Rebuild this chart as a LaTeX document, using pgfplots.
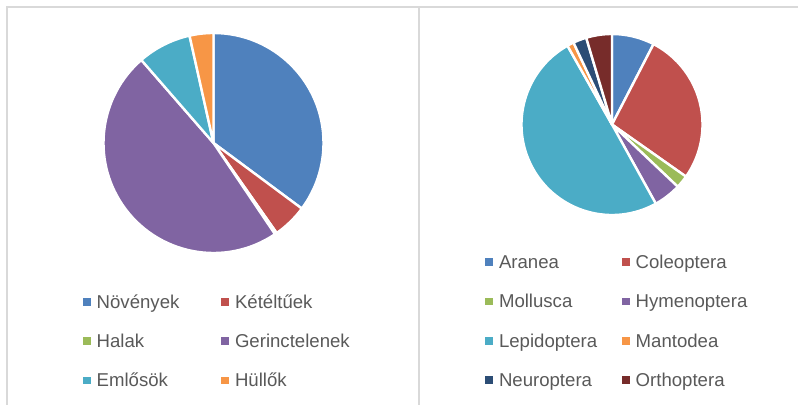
\documentclass[border=0pt]{standalone}
\usepackage{pgfplots}
\usepackage{pgfplotstable}
\pgfplotsset{compat=1.18}
\usepackage{fontspec}
\setmainfont{Liberation Sans}

\definecolor{cBlue}{HTML}{4F81BD}
\definecolor{cRed}{HTML}{C0504D}
\definecolor{cGreen}{HTML}{9BBB59}
\definecolor{cPurple}{HTML}{8064A2}
\definecolor{cAqua}{HTML}{4BACC6}
\definecolor{cOrange}{HTML}{F79646}
\definecolor{cNavy}{HTML}{2C4D75}
\definecolor{cMaroon}{HTML}{772C2A}
\definecolor{cText}{HTML}{595959}
\definecolor{cFrame}{HTML}{D9D9D9}

% left pie: share of groups (percent)
\pgfplotstableread{
name value color
Növények 35.2 cBlue
Kétéltűek 5.1 cRed
Halak 0.3 cGreen
Gerinctelenek 48.1 cPurple
Emlősök 7.9 cAqua
Hüllők 3.5 cOrange
}\lefttable

% right pie: share of orders (percent)
\pgfplotstableread{
name value color
Aranea 7.6 cBlue
Coleoptera 27.2 cRed
Mollusca 2.3 cGreen
Hymenoptera 4.9 cPurple
Lepidoptera 49.9 cAqua
Mantodea 1.2 cOrange
Neuroptera 2.4 cNavy
Orthoptera 4.6 cMaroon
}\righttable

\newcommand\legfont{\fontsize{18.6bp}{22bp}\selectfont}

\protected\def\addslice#1#2#3#4#5#6{%
  \fill[#6, draw=white, line width=2.4bp, line join=round]
    (axis cs:#1,#2) -- ++(#4:#3bp) arc[start angle=#4, end angle=#5, radius=#3bp] -- cycle;}

\protected\def\addkey#1#2#3#4#5#6#7#8{%
  \fill[#7] (axis cs:#1,#2) rectangle (axis cs:#3,#4);
  \node[anchor=base west, inner sep=0pt, text=cText, font=\legfont] at (axis cs:#5,#6) {#8};}

\newcommand\buildpie[5]{%
  \pgfplotstablegetrowsof{#1}%
  \pgfmathtruncatemacro\nlast{\pgfplotsretval-1}%
  \def\tot{0}%
  \pgfplotsforeachungrouped \k in {0,...,\nlast}{%
    \pgfplotstablegetelem{\k}{value}\of{#1}%
    \pgfmathsetmacro\tot{\tot+\pgfplotsretval}}%
  \def\cum{0}%
  \gdef#5{}%
  \pgfplotsforeachungrouped \k in {0,...,\nlast}{%
    \pgfplotstablegetelem{\k}{value}\of{#1}%
    \pgfmathsetmacro\a{90-360*(\cum/\tot)}%
    \pgfmathsetmacro\cum{\cum+\pgfplotsretval}%
    \pgfmathsetmacro\b{90-360*(\cum/\tot)}%
    \pgfplotstablegetelem{\k}{color}\of{#1}%
    \xdef#5{#5\addslice{#2}{#3}{#4}{\a}{\b}{\pgfplotsretval}}%
  }}

\newcommand\buildlegend[6]{%
  \pgfplotstablegetrowsof{#1}%
  \pgfmathtruncatemacro\nlast{\pgfplotsretval-1}%
  \gdef#6{}%
  \pgfplotsforeachungrouped \k in {0,...,\nlast}{%
    \pgfmathtruncatemacro\cc{mod(\k,2)}%
    \pgfmathtruncatemacro\rr{floor(\k/2)}%
    \ifnum\cc=0 \def\mx{#2}\else\def\mx{#3}\fi
    \pgfmathsetmacro\by{#4+\rr*#5}%
    \pgfmathsetmacro\ya{\by-10.2}%
    \pgfmathsetmacro\yb{\by-2.3}%
    \pgfmathsetmacro\xb{\mx+7.9}%
    \pgfmathsetmacro\tx{\mx+13.8}%
    \pgfplotstablegetelem{\k}{name}\of{#1}\edef\nm{\pgfplotsretval}%
    \pgfplotstablegetelem{\k}{color}\of{#1}\edef\cl{\pgfplotsretval}%
    \xdef#6{#6\addkey{\mx}{\ya}{\xb}{\yb}{\tx}{\by}{\cl}{\nm}}%
  }}

\buildpie{\lefttable}{213.5}{143}{110}{\leftslices}
\buildpie{\righttable}{612}{124.5}{90.5}{\rightslices}
\buildlegend{\lefttable}{82.7}{221}{308.3}{39.2}{\leftlegend}
\buildlegend{\righttable}{485}{621.7}{268.3}{39.4}{\rightlegend}

\begin{document}
\begin{tikzpicture}
\begin{axis}[
  scale only axis, width=798bp, height=405bp,
  xmin=0, xmax=798, ymin=0, ymax=405, y dir=reverse,
  hide axis, clip=false]
  \path (axis cs:0,0) rectangle (axis cs:798,405);
  \begin{scope}
  \clip (axis cs:0,0) rectangle (axis cs:798,405);
  \draw[cFrame, line width=1.6bp] (axis cs:6.7,406) -- (axis cs:6.7,7.3) -- (axis cs:799,7.3);
  \draw[cFrame, line width=1.6bp] (axis cs:419,7.3) -- (axis cs:419,406);
  \end{scope}
  \leftslices
  \rightslices
  \leftlegend
  \rightlegend
\end{axis}
\end{tikzpicture}
\end{document}
